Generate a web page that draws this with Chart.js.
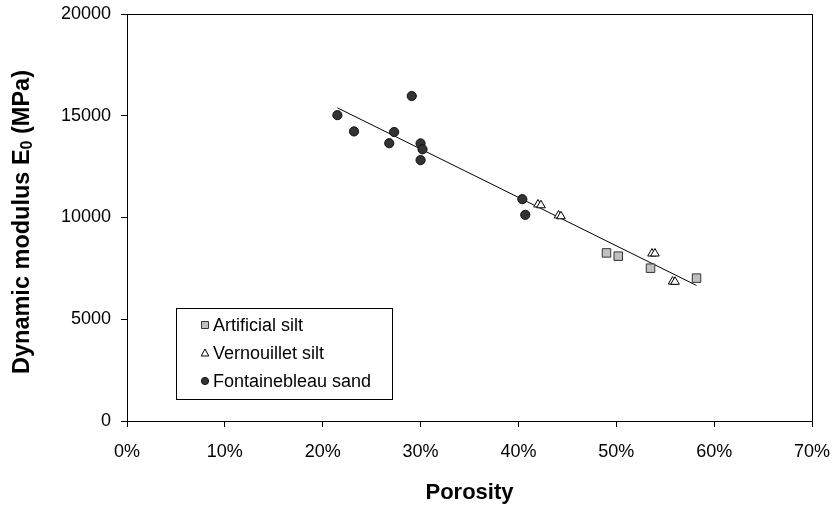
<!DOCTYPE html>
<html>
<head>
<meta charset="utf-8">
<script src="https://cdn.jsdelivr.net/npm/chart.js@4"></script>
<style>
  html, body { margin: 0; padding: 0; background: #fff; }
  #wrap { width: 833px; height: 506px; }
</style>
</head>
<body>
<div id="wrap"><canvas id="chart" width="833" height="506"></canvas></div>
<script>
// porosity in %, modulus in MPa
const artX = [49.0, 50.2, 53.5, 58.2];
const artY = [8260, 8100, 7510, 7020];

const vernX = [42.0, 42.3, 44.1, 44.35, 53.65, 53.95, 55.75, 56.0];
const vernY = [10640, 10600, 10100, 10060, 8230, 8230, 6850, 6840];

const sandX = [21.5, 23.2, 26.8, 27.3, 29.1, 30.0, 30.0, 30.2, 40.4, 40.7];
const sandY = [15030, 14230, 13650, 14200, 15970, 13640, 12820, 13350, 10900, 10130];

const fitX = [21.5, 58.2];
const fitY = [15390, 6660];

const xTicks = [0, 10, 20, 30, 40, 50, 60, 70];
const yTicks = [0, 5000, 10000, 15000, 20000];

const FONT = 'Liberation Sans, Arial, sans-serif';

function pts(xs, ys) {
    return xs.map((x, i) => ({ x: x, y: ys[i] }));
}

// box round the plot, legend box and y title with subscript
const extras = {
    id: 'extras',
    afterDraw(chart) {
        const ctx = chart.ctx;
        const a = chart.chartArea;
        ctx.save();
        ctx.strokeStyle = '#000';
        ctx.lineWidth = 1;
        ctx.strokeRect(Math.round(a.left) + 0.5, Math.round(a.top) + 0.5,
            Math.round(a.right - a.left), Math.round(a.bottom - a.top));

        // legend
        const lx = 176, ly = 308, lw = 216, lh = 91;
        ctx.fillStyle = '#fff';
        ctx.fillRect(lx, ly, lw, lh);
        ctx.strokeStyle = '#000';
        ctx.strokeRect(lx + 0.5, ly + 0.5, lw, lh);
        const rows = [325, 353, 381];
        const items = chart.data.datasets.filter(d => d.label);
        items.forEach((d, i) => {
            const y = rows[i], x = 205;
            ctx.fillStyle = d.backgroundColor;
            ctx.strokeStyle = d.borderColor;
            ctx.lineWidth = 1;
            ctx.beginPath();
            if (d.pointStyle === 'rect') {
                ctx.rect(x - 3.5, y - 3.5, 7, 7);
            } else if (d.pointStyle === 'triangle') {
                ctx.moveTo(x, y - 4);
                ctx.lineTo(x + 3.8, y + 3);
                ctx.lineTo(x - 3.8, y + 3);
                ctx.closePath();
            } else {
                ctx.arc(x, y, 3.6, 0, Math.PI * 2);
            }
            ctx.fill();
            ctx.stroke();
            ctx.fillStyle = '#000';
            ctx.font = '18px ' + FONT;
            ctx.textBaseline = 'middle';
            ctx.textAlign = 'left';
            ctx.fillText(d.label, 213, y + 1);
        });

        // y title
        ctx.translate(23, 222);
        ctx.rotate(-Math.PI / 2);
        ctx.fillStyle = '#000';
        ctx.textBaseline = 'middle';
        ctx.textAlign = 'left';
        const big = 'bold 23.5px ' + FONT, small = 'bold 16px ' + FONT;
        const p1 = 'Dynamic modulus E', p2 = '0', p3 = ' (MPa)';
        ctx.font = big;
        const w1 = ctx.measureText(p1).width, w3 = ctx.measureText(p3).width;
        ctx.font = small;
        const w2 = ctx.measureText(p2).width;
        let x0 = -(w1 + w2 + w3) / 2;
        ctx.font = big;
        ctx.fillText(p1, x0, 0);
        ctx.font = small;
        ctx.fillText(p2, x0 + w1, 5);
        ctx.font = big;
        ctx.fillText(p3, x0 + w1 + w2, 0);
        ctx.restore();
    }
};

new Chart(document.getElementById('chart').getContext('2d'), {
    type: 'scatter',
    data: {
        datasets: [
            {
                label: 'Artificial silt',
                data: pts(artX, artY),
                pointStyle: 'rect',
                pointRadius: 6,
                backgroundColor: '#c0c0c0',
                borderColor: '#333333',
                borderWidth: 1
            },
            {
                label: 'Vernouillet silt',
                data: pts(vernX, vernY),
                pointStyle: 'triangle',
                pointRadius: 5,
                backgroundColor: '#ffffff',
                borderColor: '#000000',
                borderWidth: 1
            },
            {
                label: 'Fontainebleau sand',
                data: pts(sandX, sandY),
                pointStyle: 'circle',
                pointRadius: 4.6,
                backgroundColor: '#333333',
                borderColor: '#111111',
                borderWidth: 1
            },
            {
                data: pts(fitX, fitY),
                type: 'line',
                showLine: true,
                pointRadius: 0,
                borderColor: '#000',
                borderWidth: 1,
                order: 5
            }
        ]
    },
    options: {
        responsive: false,
        animation: false,
        layout: { padding: { left: 0, right: 21, top: 14, bottom: 0 } },
        plugins: {
            legend: { display: false },
            tooltip: { enabled: false }
        },
        scales: {
            x: {
                type: 'linear',
                min: 0, max: 70,
                afterBuildTicks: s => { s.ticks = xTicks.map(v => ({ value: v })); },
                afterFit: s => { s.height = 85; s.paddingLeft = 0; s.paddingRight = 0; },
                grid: { drawOnChartArea: false, color: '#000', tickLength: 6 },
                border: { color: '#000', width: 1 },
                ticks: {
                    color: '#000', padding: 14,
                    font: { family: FONT, size: 18 },
                    callback: v => v + '%'
                },
                title: {
                    display: true, text: 'Porosity', color: '#000',
                    font: { family: FONT, size: 22, weight: 'bold' },
                    padding: { top: 4, bottom: 0 }
                }
            },
            y: {
                type: 'linear',
                min: 0, max: 20000,
                afterBuildTicks: s => { s.ticks = yTicks.map(v => ({ value: v })); },
                afterFit: s => { s.width = 127; s.paddingTop = 0; s.paddingBottom = 0; },
                grid: { drawOnChartArea: false, color: '#000', tickLength: 6 },
                border: { color: '#000', width: 1 },
                ticks: {
                    color: '#000', padding: 10,
                    font: { family: FONT, size: 18 },
                    callback: v => String(v)
                }
            }
        }
    },
    plugins: [extras]
});
</script>
</body>
</html>
